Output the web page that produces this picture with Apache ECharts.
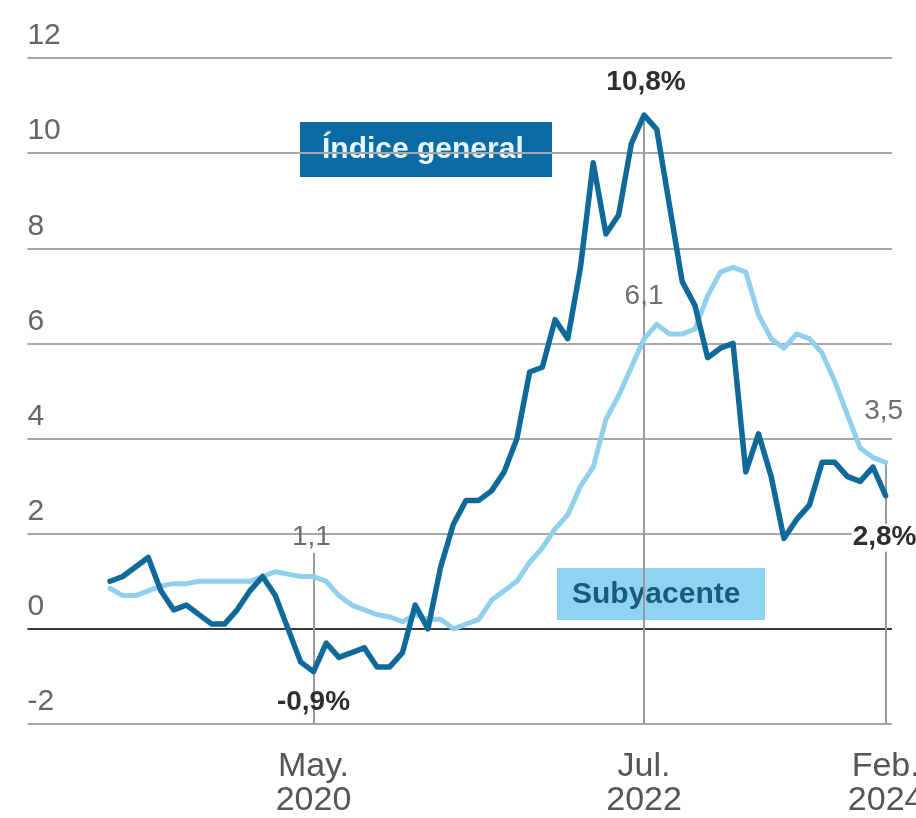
<!DOCTYPE html>
<html>
<head>
<meta charset="utf-8">
<script src="https://cdn.jsdelivr.net/npm/echarts@6/dist/echarts.min.js"></script>
<style>
html,body{margin:0;padding:0;background:#fff;}
#c{width:916px;height:818px;}
</style>
</head>
<body>
<div id="c"></div>
<script>
// Months (Jan 2019 – Feb 2024)
const months = [
  'ene 2019','feb 2019','mar 2019','abr 2019','may 2019','jun 2019','jul 2019','ago 2019','sep 2019','oct 2019','nov 2019','dic 2019',
  'ene 2020','feb 2020','mar 2020','abr 2020','may 2020','jun 2020','jul 2020','ago 2020','sep 2020','oct 2020','nov 2020','dic 2020',
  'ene 2021','feb 2021','mar 2021','abr 2021','may 2021','jun 2021','jul 2021','ago 2021','sep 2021','oct 2021','nov 2021','dic 2021',
  'ene 2022','feb 2022','mar 2022','abr 2022','may 2022','jun 2022','jul 2022','ago 2022','sep 2022','oct 2022','nov 2022','dic 2022',
  'ene 2023','feb 2023','mar 2023','abr 2023','may 2023','jun 2023','jul 2023','ago 2023','sep 2023','oct 2023','nov 2023','dic 2023',
  'ene 2024','feb 2024'
];

// Índice general (%)
const general = [
  1.0, 1.1, 1.3, 1.5, 0.8, 0.4, 0.5, 0.3, 0.1, 0.1, 0.4, 0.8,
  1.1, 0.7, 0.0, -0.7, -0.9, -0.3, -0.6, -0.5, -0.4, -0.8, -0.8, -0.5,
  0.5, 0.0, 1.3, 2.2, 2.7, 2.7, 2.9, 3.3, 4.0, 5.4, 5.5, 6.5,
  6.1, 7.6, 9.8, 8.3, 8.7, 10.2, 10.8, 10.5, 8.9, 7.3, 6.8, 5.7,
  5.9, 6.0, 3.3, 4.1, 3.2, 1.9, 2.3, 2.6, 3.5, 3.5, 3.2, 3.1,
  3.4, 2.8
];

// Subyacente (%)
const subyacente = [
  0.85, 0.7, 0.7, 0.8, 0.9, 0.95, 0.95, 1.0, 1.0, 1.0, 1.0, 1.0,
  1.1, 1.2, 1.15, 1.1, 1.1, 1.0, 0.7, 0.5, 0.4, 0.3, 0.25, 0.15,
  0.3, 0.2, 0.2, 0.0, 0.1, 0.2, 0.6, 0.8, 1.0, 1.4, 1.7, 2.1,
  2.4, 3.0, 3.4, 4.4, 4.9, 5.5, 6.1, 6.4, 6.2, 6.2, 6.3, 7.0,
  7.5, 7.6, 7.5, 6.6, 6.1, 5.9, 6.2, 6.1, 5.8, 5.2, 4.5, 3.8,
  3.6, 3.5
];

const seriesNames = ['Índice general', 'Subyacente'];
const xTickIndex = [16, 42, 61];
const xTickLabels = ['May.\n2020', 'Jul.\n2022', 'Feb.\n2024'];
const yTicks = [-2, 0, 2, 4, 6, 8, 10, 12];

const FONT = '"Liberation Sans", Arial, Helvetica, sans-serif';
const DARK = '#0f6a99';
const LIGHT = '#90d0ee';
const fmt = v => v.toFixed(1).replace('.', ',');
const toPairs = arr => arr.map((v, i) => [i, v]);
const [iMay, iJul, iFeb] = xTickIndex;
const yMin = yTicks[0], yMax = yTicks[yTicks.length - 1];

const chart = echarts.init(document.getElementById('c'), null, {renderer: 'canvas'});

const boldLbl = {fontFamily: FONT, fontSize: 28, fontWeight: 'bold', color: '#2e2e2e'};
const greyLbl = {fontFamily: FONT, fontSize: 28, color: '#6e6e6e'};

chart.setOption({
  animation: false,
  backgroundColor: '#ffffff',
  textStyle: {fontFamily: FONT},
  grid: {left: 27.4, right: 24, top: 58, bottom: 94, containLabel: false, outerBoundsMode: 'none'},
  xAxis: {
    type: 'value', min: -6.5, max: 61.5, interval: 0.25,
    axisLine: {show: false}, axisTick: {show: false}, splitLine: {show: false},
    axisLabel: {
      showMinLabel: false, showMaxLabel: false,
      margin: 26, fontSize: 34, lineHeight: 34, color: '#555', fontFamily: FONT,
      formatter: v => { const k = xTickIndex.indexOf(v); return k >= 0 ? xTickLabels[k] : ''; }
    }
  },
  yAxis: {
    type: 'value', min: yMin, max: yMax, interval: 2,
    axisLine: {show: false}, axisTick: {show: false},
    splitLine: {show: true, lineStyle: {color: yTicks.map(t => t === 0 ? '#3a3a3a' : '#a8a8a8'), width: 2}},
    axisLabel: {inside: true, margin: 0, verticalAlign: 'bottom', padding: [0, 0, 7, 0], fontSize: 30, color: '#666', fontFamily: FONT}
  },
  series: [
    {
      name: seriesNames[1], type: 'line', data: toPairs(subyacente), symbol: 'none', z: 2,
      lineStyle: {color: LIGHT, width: 5, join: 'round', cap: 'round'},
      markLine: {
        silent: true, symbol: ['none', 'none'], z: 1, label: {show: false},
        lineStyle: {color: '#9a9a9a', width: 2, type: 'solid'},
        data: [
          [{coord: [iMay, subyacente[iMay] + 0.5]}, {coord: [iMay, yMin]}],
          [{coord: [iJul, general[iJul]]}, {coord: [iJul, yMin]}],
          [{coord: [iFeb, subyacente[iFeb]]}, {coord: [iFeb, yMin]}]
        ]
      },
      markPoint: {
        symbol: 'circle', symbolSize: 1, silent: true,
        itemStyle: {color: 'rgba(0,0,0,0)'},
        label: Object.assign({show: true, position: 'inside', formatter: '{b}'}, greyLbl),
        data: [
          {name: fmt(subyacente[iJul]), coord: [iJul, subyacente[iJul]], label: {offset: [0, -42]}},
          {name: fmt(subyacente[iMay]), coord: [iMay, subyacente[iMay]], label: {offset: [-2, -39]}},
          {name: fmt(subyacente[iFeb]), coord: [iFeb, subyacente[iFeb]], label: {offset: [-2, -51]}}
        ]
      }
    },
    {
      name: seriesNames[0], type: 'line', data: toPairs(general), symbol: 'none', z: 3,
      lineStyle: {color: DARK, width: 5.5, join: 'round', cap: 'round'},
      markPoint: {
        symbol: 'circle', symbolSize: 1, silent: true,
        itemStyle: {color: 'rgba(0,0,0,0)'},
        label: Object.assign({show: true, position: 'inside', formatter: '{b}'}, boldLbl),
        data: [
          {name: fmt(general[iJul]) + '%', coord: [iJul, general[iJul]], label: {offset: [2, -33]}},
          {name: fmt(general[iMay]) + '%', coord: [iMay, general[iMay]], label: {offset: [0, 31]}},
          {name: fmt(general[iFeb]) + '%', coord: [iFeb, general[iFeb]],
            label: {align: 'left', offset: [-34, 42], backgroundColor: '#fff', padding: [0, 0, 0, 1]}}
        ]
      }
    }
  ],
  graphic: [
    {
      type: 'group', left: 300, top: 122, z: 10,
      children: [
        {type: 'rect', shape: {x: 0, y: 0, width: 252, height: 55}, style: {fill: '#0d6ba3'}},
        {type: 'text', x: 22, y: 28, style: {text: seriesNames[0], font: 'bold 30px ' + FONT, fill: '#e6f5fc', verticalAlign: 'middle', align: 'left'}}
      ]
    },
    {
      type: 'group', left: 557, top: 568, z: 10,
      children: [
        {type: 'rect', shape: {x: 0, y: 0, width: 208, height: 52}, style: {fill: '#8fd3f2'}},
        {type: 'text', x: 15, y: 27, style: {text: seriesNames[1], font: 'bold 30px ' + FONT, fill: '#1b5a7c', verticalAlign: 'middle', align: 'left'}}
      ]
    }
  ]
});
</script>
</body>
</html>
